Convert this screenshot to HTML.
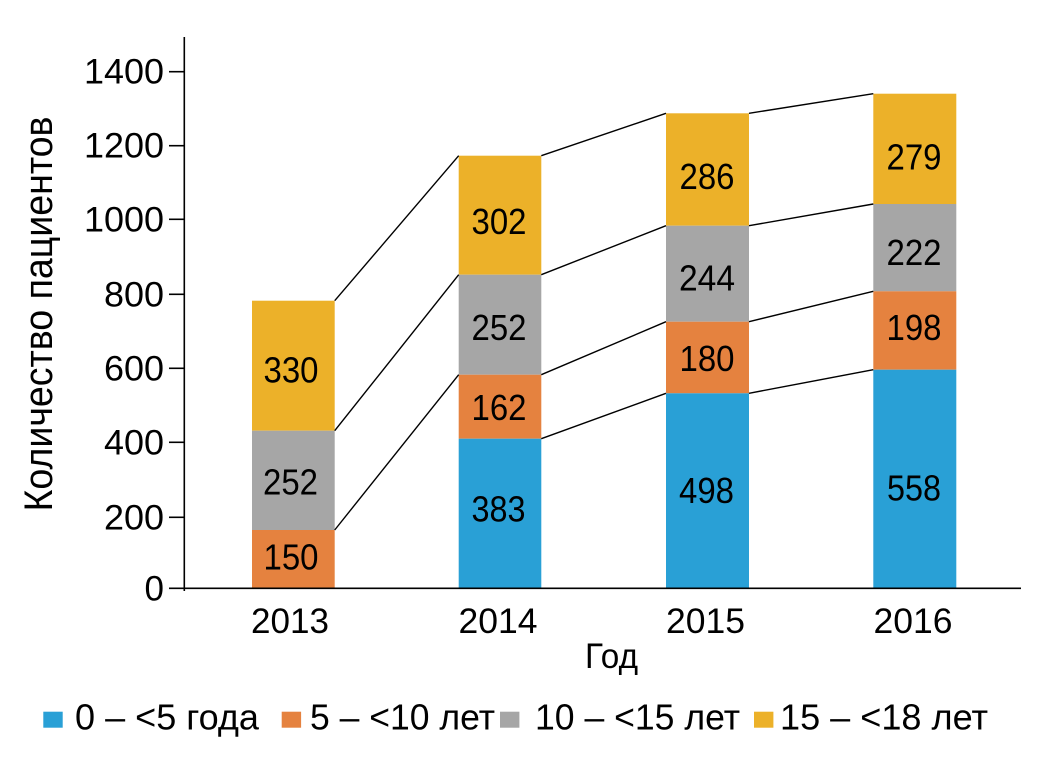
<!DOCTYPE html>
<html>
<head>
<meta charset="utf-8">
<style>
  html, body { margin: 0; padding: 0; background: #ffffff; }
  svg { display: block; }
  text { font-family: "Liberation Sans", "DejaVu Sans", sans-serif; fill: #000; }
</style>
</head>
<body>
<svg width="1048" height="760" viewBox="0 0 1048 760" xmlns="http://www.w3.org/2000/svg">
  <rect x="0" y="0" width="1048" height="760" fill="#ffffff"/>

  <!-- Bars 2013 -->
  <rect x="252" y="300.7" width="82.7" height="130" fill="#ECB129"/>
  <rect x="252" y="430.7" width="82.7" height="99.3" fill="#A6A6A6"/>
  <rect x="252" y="530" width="82.7" height="59" fill="#E5823F"/>

  <!-- Bars 2014 -->
  <rect x="458.7" y="155.7" width="82.6" height="119" fill="#ECB129"/>
  <rect x="458.7" y="274.7" width="82.6" height="100" fill="#A6A6A6"/>
  <rect x="458.7" y="374.7" width="82.6" height="64" fill="#E5823F"/>
  <rect x="458.7" y="438.7" width="82.6" height="150.3" fill="#29A0D6"/>

  <!-- Bars 2015 -->
  <rect x="666" y="113.3" width="83" height="112.4" fill="#ECB129"/>
  <rect x="666" y="225.7" width="83" height="96" fill="#A6A6A6"/>
  <rect x="666" y="321.7" width="83" height="71.6" fill="#E5823F"/>
  <rect x="666" y="393.3" width="83" height="195.7" fill="#29A0D6"/>

  <!-- Bars 2016 -->
  <rect x="873.3" y="93.7" width="83" height="110.3" fill="#ECB129"/>
  <rect x="873.3" y="204" width="83" height="87.3" fill="#A6A6A6"/>
  <rect x="873.3" y="291.3" width="83" height="78.4" fill="#E5823F"/>
  <rect x="873.3" y="369.7" width="83" height="219.3" fill="#29A0D6"/>

  <!-- Connector lines -->
  <g stroke="#000" stroke-width="1.4" fill="none">
    <line x1="334.7" y1="300.7" x2="458.7" y2="155.7"/>
    <line x1="541.3" y1="155.7" x2="666" y2="113.3"/>
    <line x1="749" y1="113.3" x2="873.3" y2="93.7"/>

    <line x1="334.7" y1="430.7" x2="458.7" y2="274.7"/>
    <line x1="541.3" y1="274.7" x2="666" y2="225.7"/>
    <line x1="749" y1="225.7" x2="873.3" y2="204"/>

    <line x1="334.7" y1="530" x2="458.7" y2="374.7"/>
    <line x1="541.3" y1="374.7" x2="666" y2="321.7"/>
    <line x1="749" y1="321.7" x2="873.3" y2="291.3"/>

    <line x1="541.3" y1="438.7" x2="666" y2="393.3"/>
    <line x1="749" y1="393.3" x2="873.3" y2="369.7"/>
  </g>

  <!-- Axes -->
  <g stroke="#000" stroke-width="1.6" fill="none">
    <line x1="184.3" y1="37" x2="184.3" y2="591"/>
    <line x1="169" y1="588.3" x2="1021" y2="588.3"/>
    <line x1="169" y1="517.3" x2="184.3" y2="517.3"/>
    <line x1="169" y1="442.3" x2="184.3" y2="442.3"/>
    <line x1="169" y1="368.3" x2="184.3" y2="368.3"/>
    <line x1="169" y1="294.3" x2="184.3" y2="294.3"/>
    <line x1="169" y1="219.3" x2="184.3" y2="219.3"/>
    <line x1="169" y1="145.7" x2="184.3" y2="145.7"/>
    <line x1="169" y1="71.7" x2="184.3" y2="71.7"/>
  </g>

  <!-- Y tick labels -->
  <g font-size="35" text-anchor="end">
    <text x="164" y="600.3">0</text>
    <text x="164" y="529.3" textLength="60" lengthAdjust="spacingAndGlyphs">200</text>
    <text x="164" y="454.3" textLength="60" lengthAdjust="spacingAndGlyphs">400</text>
    <text x="164" y="380.3" textLength="60" lengthAdjust="spacingAndGlyphs">600</text>
    <text x="164" y="306.3" textLength="60" lengthAdjust="spacingAndGlyphs">800</text>
    <text x="164" y="231.5" textLength="80" lengthAdjust="spacingAndGlyphs">1000</text>
    <text x="164" y="157.7" textLength="80" lengthAdjust="spacingAndGlyphs">1200</text>
    <text x="164" y="83.5" textLength="80" lengthAdjust="spacingAndGlyphs">1400</text>
  </g>

  <!-- Y axis title -->
  <text transform="translate(52,314) rotate(-90)" font-size="40" text-anchor="middle" textLength="395" lengthAdjust="spacingAndGlyphs">Количество пациентов</text>

  <!-- X tick labels -->
  <g font-size="35" text-anchor="middle">
    <text x="290" y="633" textLength="78" lengthAdjust="spacingAndGlyphs">2013</text>
    <text x="498" y="633" textLength="79" lengthAdjust="spacingAndGlyphs">2014</text>
    <text x="705.5" y="633" textLength="79" lengthAdjust="spacingAndGlyphs">2015</text>
    <text x="913" y="633" textLength="79" lengthAdjust="spacingAndGlyphs">2016</text>
  </g>

  <!-- X axis title -->
  <text x="611.5" y="668" font-size="35" text-anchor="middle" textLength="53" lengthAdjust="spacingAndGlyphs">Год</text>

  <!-- Data labels -->
  <g font-size="36" text-anchor="middle">
    <text x="291" y="382.3" textLength="55" lengthAdjust="spacingAndGlyphs">330</text>
    <text x="290.5" y="494.3" textLength="55" lengthAdjust="spacingAndGlyphs">252</text>
    <text x="291" y="569.3" textLength="55" lengthAdjust="spacingAndGlyphs">150</text>

    <text x="499" y="234" textLength="55" lengthAdjust="spacingAndGlyphs">302</text>
    <text x="499" y="340" textLength="55" lengthAdjust="spacingAndGlyphs">252</text>
    <text x="499" y="420" textLength="55" lengthAdjust="spacingAndGlyphs">162</text>
    <text x="498.5" y="521.7" textLength="54" lengthAdjust="spacingAndGlyphs">383</text>

    <text x="707" y="189" textLength="55" lengthAdjust="spacingAndGlyphs">286</text>
    <text x="707" y="290.7" textLength="56" lengthAdjust="spacingAndGlyphs">244</text>
    <text x="707" y="371" textLength="55" lengthAdjust="spacingAndGlyphs">180</text>
    <text x="706.5" y="503" textLength="55" lengthAdjust="spacingAndGlyphs">498</text>

    <text x="914" y="169.3" textLength="55" lengthAdjust="spacingAndGlyphs">279</text>
    <text x="914" y="265" textLength="55" lengthAdjust="spacingAndGlyphs">222</text>
    <text x="914" y="340" textLength="55" lengthAdjust="spacingAndGlyphs">198</text>
    <text x="914" y="500.7" textLength="54" lengthAdjust="spacingAndGlyphs">558</text>
  </g>

  <!-- Legend -->
  <rect x="43.3" y="711.7" width="19.4" height="16" fill="#29A0D6"/>
  <text x="75" y="729.5" font-size="36" textLength="184" lengthAdjust="spacingAndGlyphs">0 – &lt;5 года</text>

  <rect x="281.7" y="711.7" width="19.4" height="16" fill="#E5823F"/>
  <text x="310" y="729.5" font-size="36" textLength="185" lengthAdjust="spacingAndGlyphs">5 – &lt;10 лет</text>

  <rect x="500" y="711.7" width="19.4" height="16" fill="#A6A6A6"/>
  <text x="535" y="729.5" font-size="36" textLength="205" lengthAdjust="spacingAndGlyphs">10 – &lt;15 лет</text>

  <rect x="754" y="711.7" width="19.4" height="16" fill="#ECB129"/>
  <text x="780" y="729.5" font-size="36" textLength="208" lengthAdjust="spacingAndGlyphs">15 – &lt;18 лет</text>
</svg>
</body>
</html>
